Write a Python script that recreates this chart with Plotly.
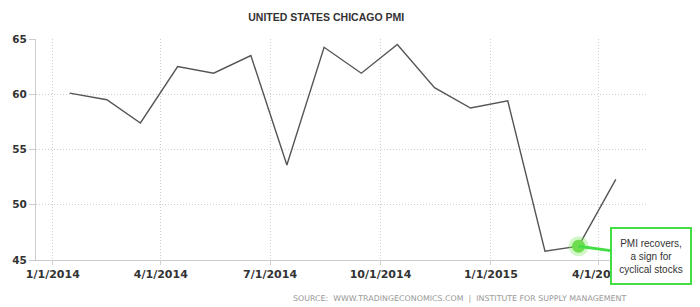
import plotly.graph_objects as go

dates = ["2014-01-15", "2014-02-15", "2014-03-15", "2014-04-15", "2014-05-15", "2014-06-15",
         "2014-07-15", "2014-08-15", "2014-09-15", "2014-10-15", "2014-11-15", "2014-12-15",
         "2015-01-15", "2015-02-15", "2015-03-15", "2015-04-15"]
pmi = [60.1, 59.5, 57.4, 62.5, 61.9, 63.5, 53.6, 64.25, 61.9, 64.5, 60.6, 58.75, 59.4, 45.8, 46.25, 52.3]

x_tick_vals = ["2014-01-01", "2014-04-01", "2014-07-01", "2014-10-01", "2015-01-01", "2015-04-01"]
x_tick_text = ["1/1/2014", "4/1/2014", "7/1/2014", "10/1/2014", "1/1/2015", "4/1/2015"]
y_tick_vals = [45, 50, 55, 60, 65]

highlight_date = ["2015-03-15"]
highlight_val = [46.25]

fig = go.Figure()
fig.add_trace(go.Scatter(x=dates, y=pmi, mode="lines",
                         line=dict(color="#555555", width=1.4), hoverinfo="skip"))
fig.add_trace(go.Scatter(x=highlight_date, y=highlight_val, mode="markers",
                         marker=dict(size=20, color="rgba(120,230,90,0.35)", line=dict(width=0)),
                         hoverinfo="skip"))
fig.add_trace(go.Scatter(x=highlight_date, y=highlight_val, mode="markers",
                         marker=dict(size=13, color="#6fdc4f", line=dict(width=0)),
                         hoverinfo="skip"))

fig.update_layout(
    width=700, height=307,
    margin=dict(l=33, r=53, t=39, b=47),
    paper_bgcolor="white", plot_bgcolor="white",
    showlegend=False,
    title=dict(text="<b>UNITED STATES CHICAGO PMI</b>", x=0.466, xanchor="center",
               y=0.945, yanchor="middle",
               font=dict(family="Liberation Sans", size=10.5, color="#333333")),
    xaxis=dict(
        type="date", range=["2013-12-18", "2015-05-11"],
        tickvals=x_tick_vals, ticktext=["<b>%s</b>" % t for t in x_tick_text],
        showgrid=True, gridcolor="#cfcfcf", griddash="1px,2px", gridwidth=1,
        showline=True, linecolor="#cccccc", linewidth=1,
        ticks="outside", ticklen=4, tickcolor="#d0d0d0",
        tickfont=dict(family="DejaVu Sans", size=11, color="#333333"),
        zeroline=False, fixedrange=True,
    ),
    yaxis=dict(
        range=[45, 65], tickvals=y_tick_vals,
        ticktext=["<b>%d</b>" % v for v in y_tick_vals],
        showgrid=True, gridcolor="#cfcfcf", griddash="1px,2px", gridwidth=1,
        showline=True, linecolor="#cccccc", linewidth=1,
        ticks="outside", ticklen=6, tickcolor="#cccccc",
        tickfont=dict(family="DejaVu Sans", size=10.5, color="#333333"),
        zeroline=False, fixedrange=True,
    ),
    annotations=[
        dict(text="SOURCE:  WWW.TRADINGECONOMICS.COM  |  INSTITUTE FOR SUPPLY MANAGEMENT",
             xref="paper", yref="paper", x=0.418, y=-0.172, xanchor="left", yanchor="middle",
             showarrow=False, font=dict(family="DejaVu Sans", size=7.9, color="#999999")),
        dict(text="PMI recovers,<br>a sign for<br>cyclical stocks",
             x="2015-03-15", y=46.25, xref="x", yref="y",
             ax=72, ay=10, axref="pixel", ayref="pixel",
             showarrow=True, arrowhead=0, arrowwidth=3, arrowcolor="#44dd44",
             xanchor="center", yanchor="middle", align="center",
             width=74, height=50,
             bgcolor="white", bordercolor="#44dd44", borderwidth=2, borderpad=2,
             font=dict(family="Liberation Sans", size=10, color="#333333")),
    ],
)

fig.write_html("out.html")
